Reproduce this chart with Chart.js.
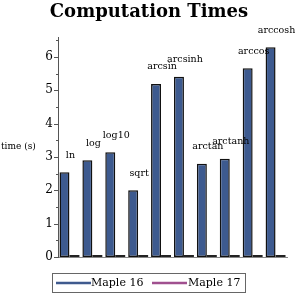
<!DOCTYPE html>
<html><head><meta charset="utf-8">
<script src="https://cdn.jsdelivr.net/npm/chart.js@4/dist/chart.umd.min.js"></script>
<style>html,body{margin:0;padding:0;background:#fff}#c{display:block}</style>
</head><body>
<canvas id="c" width="295" height="295"></canvas>
<script>
const categories = ["ln","log","log10","sqrt","arcsin","arcsinh","arctan","arctanh","arccos","arccosh"];
const maple16 = [2.54, 2.9, 3.14, 2.0, 5.19, 5.41, 2.8, 2.95, 5.66, 6.29];
const maple17 = [0, 0, 0, 0, 0, 0, 0, 0, 0, 0];
const seriesNames = ["Maple 16", "Maple 17"];
const yTicks = [0, 1, 2, 3, 4, 5, 6];
const titleText = "Computation Times";
const yTitle = "time (s)";

const SERIF = '"DejaVu Serif", "Liberation Serif", serif';

const deco = {
  id: 'deco',
  afterDraw(chart) {
    const ctx = chart.ctx, y = chart.scales.y, x = chart.scales.x, ca = chart.chartArea;
    ctx.save();
    ctx.fillStyle = '#000';
    ctx.font = 'bold 18px ' + SERIF;
    ctx.textAlign = 'center'; ctx.textBaseline = 'middle';
    ctx.fillText(titleText, 149, 12);
    ctx.font = '9px ' + SERIF;
    ctx.textAlign = 'left';
    ctx.fillText(yTitle, 1, (ca.top + ca.bottom) / 2);
    ctx.strokeStyle = '#555'; ctx.lineWidth = 1;
    for (let v = 0; v <= 6.5; v += 0.5) {
      const py = Math.round(y.getPixelForValue(v)) + 0.5;
      ctx.beginPath();
      if (Number.isInteger(v)) { ctx.moveTo(ca.left - 4, py); ctx.lineTo(ca.left, py); }
      else { ctx.moveTo(ca.left - 2, py); ctx.lineTo(ca.left + 1, py); }
      ctx.stroke();
    }
    ctx.fillStyle = '#000';
    ctx.font = '9.5px ' + SERIF;
    ctx.textAlign = 'center'; ctx.textBaseline = 'middle';
    categories.forEach((c, i) => {
      const px = x.getPixelForValue(i);
      const py = y.getPixelForValue(maple16[i]) - 17;
      ctx.fillText(c, px + 1, py);
    });
    const lx = 52.5, ly = 273.5, lw = 193, lh = 19;
    ctx.strokeStyle = '#666'; ctx.lineWidth = 1;
    ctx.strokeRect(lx, ly, lw, lh);
    ctx.font = '11px ' + SERIF;
    ctx.textAlign = 'left'; ctx.textBaseline = 'middle';
    const ds = chart.data.datasets;
    const items = [[56, 91], [152, 188]];
    ds.forEach((d, i) => {
      const [sx, tx] = items[i];
      ctx.strokeStyle = d.legendColor; ctx.lineWidth = 2.5;
      ctx.beginPath(); ctx.moveTo(sx, 283); ctx.lineTo(sx + 35, 283); ctx.stroke();
      ctx.fillStyle = '#000';
      ctx.fillText(d.label, tx, 283.5);
    });
    ctx.restore();
  }
};

new Chart(document.getElementById('c'), {
  type: 'bar',
  data: {
    labels: categories,
    datasets: [
      { label: seriesNames[0], data: maple16, backgroundColor: '#3d5a8f', borderColor: '#111', borderWidth: 1.5, borderSkipped: false, legendColor: '#3f5a8e' },
      { label: seriesNames[1], data: maple17, backgroundColor: '#222', borderColor: '#222', borderWidth: 0, minBarLength: 2, legendColor: '#a0508f' }
    ]
  },
  options: {
    responsive: false, animation: false,
    layout: { padding: { left: 0, right: 8, top: 37, bottom: 38 } },
    datasets: { bar: { categoryPercentage: 0.87, barPercentage: 1.0 } },
    plugins: { legend: { display: false }, title: { display: false }, tooltip: { enabled: false } },
    scales: {
      x: {
        offset: true,
        grid: { display: false, drawTicks: false },
        border: { display: true, color: '#888', width: 1 },
        ticks: { display: false },
        afterFit(s) { s.height = 0; }
      },
      y: {
        min: 0, max: 6.6,
        grid: { display: false, drawTicks: false },
        border: { display: true, color: '#555', width: 1 },
        afterBuildTicks(s) { s.ticks = yTicks.map(v => ({ value: v })); },
        ticks: { font: { family: SERIF, size: 12 }, color: '#000', padding: 5 },
        afterFit(s) { s.width = 58; }
      }
    }
  },
  plugins: [deco]
});
</script>
</body></html>
